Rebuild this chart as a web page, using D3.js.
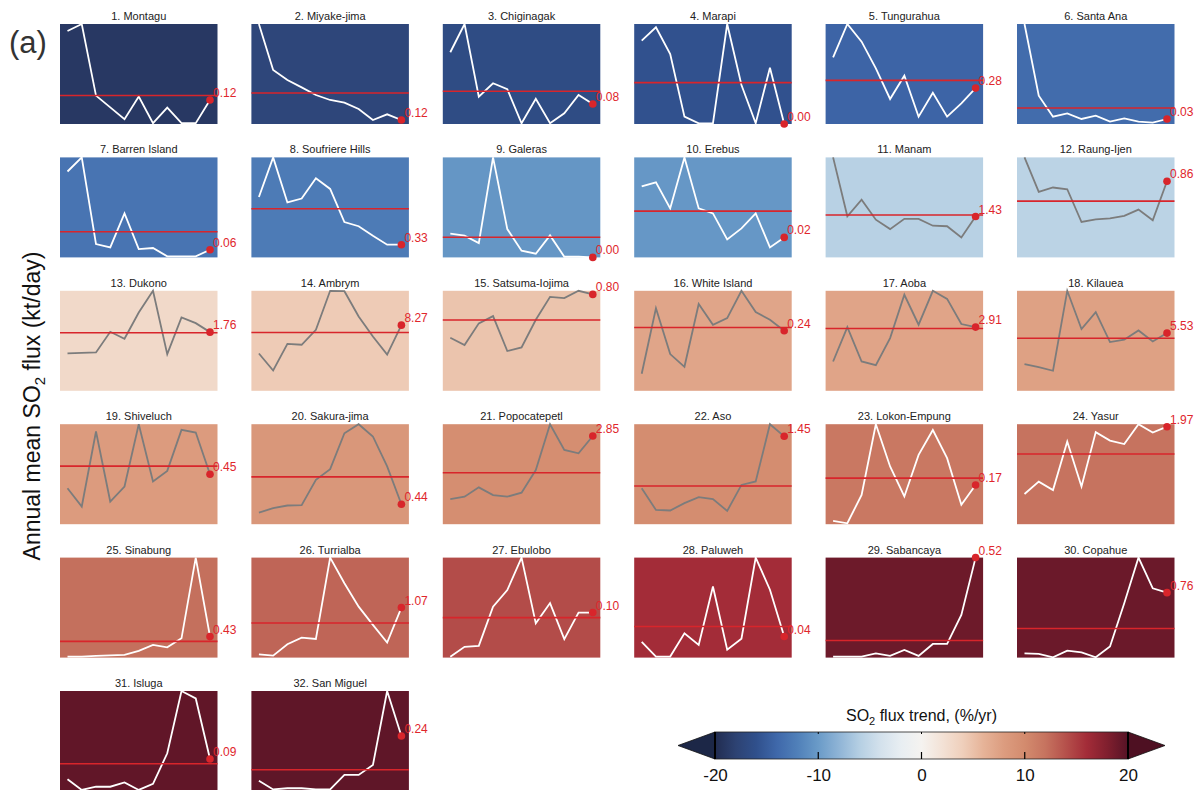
<!DOCTYPE html>
<html>
<head>
<meta charset="utf-8">
<script src="https://cdn.jsdelivr.net/npm/d3@7"></script>
<style>
  body { margin: 0; background: #fff; }
  svg { display: block; font-family: "Liberation Sans", Arial, Helvetica, sans-serif; }
</style>
</head>
<body>
<svg id="chart" width="1194" height="790"></svg>
<script>
// Years of annual means (x categories shared by every panel)
const years = [2005, 2006, 2007, 2008, 2009, 2010, 2011, 2012, 2013, 2014, 2015];

// Volcano names, ordered by SO2 flux trend
const names = ["Montagu", "Miyake-jima", "Chiginagak", "Marapi", "Tungurahua", "Santa Ana",
  "Barren Island", "Soufriere Hills", "Galeras", "Erebus", "Manam", "Raung-Ijen",
  "Dukono", "Ambrym", "Satsuma-Iojima", "White Island", "Aoba", "Kilauea",
  "Shiveluch", "Sakura-jima", "Popocatepetl", "Aso", "Lokon-Empung", "Yasur",
  "Sinabung", "Turrialba", "Ebulobo", "Paluweh", "Sabancaya", "Copahue",
  "Isluga", "San Miguel"];

// SO2 flux trend per volcano (%/yr)
const trends = [-18.9, -17.4, -16.6, -15.9, -14.3, -13.7, -13.0, -12.4, -10.4, -10.3, -5.8, -5.6,
  3.0, 4.3, 4.8, 7.2, 7.3, 7.6, 8.1, 8.6, 9.6, 9.8, 11.6, 12.0,
  12.2, 12.8, 14.2, 16.0, 18.9, 19.0, 19.5, 19.55];

// Annual mean SO2 flux (kt/day), 2005-2015
const montagu      = [0.465, 0.50, 0.142, 0.083, 0.024, 0.137, 0.004, 0.082, 0.004, 0.004, 0.12];
const miyakeJima   = [3.0, 1.62, 1.32, 1.10, 0.87, 0.72, 0.64, 0.45, 0.12, 0.29, 0.12];
const chiginagak   = [0.287, 0.40, 0.109, 0.163, 0.139, 0.003, 0.101, 0.003, 0.043, 0.116, 0.08];
const marapi       = [0.50, 0.58, 0.42, 0.044, 0.004, 0.004, 0.60, 0.234, 0.004, 0.338, 0.0];
const tungurahua   = [0.52, 0.78, 0.642, 0.434, 0.195, 0.377, 0.057, 0.244, 0.057, 0.161, 0.28];
const santaAna     = [0.60, 0.17, 0.044, 0.064, 0.03, 0.05, 0.014, 0.034, 0.014, 0.008, 0.03];
const barrenIsland = [0.67, 0.78, 0.104, 0.078, 0.343, 0.065, 0.073, 0.008, 0.008, 0.008, 0.06];
const soufriere    = [1.57, 2.6, 1.43, 1.53, 2.06, 1.78, 0.92, 0.81, 0.56, 0.33, 0.33];
const galeras      = [0.071, 0.065, 0.043, 0.30, 0.085, 0.02, 0.011, 0.066, 0.002, 0.002, 0.0];
const erebus       = [0.071, 0.075, 0.049, 0.10, 0.049, 0.044, 0.018, 0.029, 0.044, 0.01, 0.02];
const manam        = [3.5, 1.44, 2.02, 1.32, 0.99, 1.35, 1.35, 1.11, 1.09, 0.70, 1.43];
const raungIjen    = [1.13, 0.74, 0.79, 0.77, 0.40, 0.43, 0.44, 0.47, 0.54, 0.42, 0.86];
const dukono       = [1.12, 1.14, 1.15, 1.77, 1.56, 2.35, 3.0, 1.10, 2.20, 2.03, 1.76];
const ambrym       = [4.70, 2.56, 5.92, 5.80, 7.69, 12.6, 12.55, 9.36, 6.84, 4.57, 8.27];
const satsumaIojima= [0.44, 0.38, 0.56, 0.62, 0.33, 0.36, 0.59, 0.78, 0.77, 0.83, 0.80];
const whiteIsland  = [0.068, 0.33, 0.147, 0.096, 0.347, 0.264, 0.291, 0.40, 0.315, 0.284, 0.24];
const aoba         = [1.34, 2.91, 1.34, 1.17, 2.41, 4.39, 3.02, 4.57, 4.20, 3.05, 2.91];
const kilauea      = [2.56, 2.27, 1.92, 9.58, 5.91, 7.54, 4.67, 4.89, 5.78, 4.72, 5.53];
const shiveluch    = [0.324, 0.159, 0.834, 0.204, 0.339, 0.9, 0.384, 0.48, 0.849, 0.825, 0.45];
const sakurajima   = [0.257, 0.352, 0.411, 0.418, 0.975, 1.21, 2.0, 2.2, 1.93, 1.27, 0.44];
const popocatepetl = [0.81, 0.89, 1.19, 0.94, 0.89, 1.02, 1.75, 3.23, 2.40, 2.29, 2.85];
const aso          = [0.594, 0.236, 0.226, 0.347, 0.446, 0.413, 0.219, 0.648, 0.705, 1.65, 1.45];
const lokonEmpung  = [0.014, 0.004, 0.127, 0.433, 0.25, 0.12, 0.30, 0.408, 0.286, 0.084, 0.17];
const yasur        = [0.61, 0.86, 0.69, 1.67, 0.76, 1.86, 1.69, 1.62, 2.02, 1.85, 1.97];
const sinabung     = [0.02, 0.02, 0.035, 0.047, 0.055, 0.137, 0.26, 0.211, 0.396, 2.05, 0.43];
const turrialba    = [0.071, 0.043, 0.285, 0.428, 0.40, 2.14, 1.59, 1.09, 0.70, 0.321, 1.07];
const ebulobo      = [0.002, 0.024, 0.026, 0.113, 0.15, 0.222, 0.076, 0.121, 0.041, 0.10, 0.10];
const paluweh      = [0.03, 0.002, 0.002, 0.046, 0.024, 0.135, 0.015, 0.036, 0.19, 0.129, 0.04];
const sabancaya    = [0.005, 0.005, 0.005, 0.022, 0.009, 0.04, 0.009, 0.071, 0.071, 0.222, 0.52];
const copahue      = [0.05, 0.043, 0.004, 0.082, 0.062, 0.004, 0.129, 0.635, 1.17, 0.81, 0.76];
const isluga       = [0.033, 0.003, 0.012, 0.012, 0.024, 0.003, 0.02, 0.106, 0.281, 0.26, 0.09];
const sanMiguel    = [0.045, 0.007, 0.012, 0.012, 0.007, 0.007, 0.07, 0.07, 0.113, 0.436, 0.24];

const series = [montagu, miyakeJima, chiginagak, marapi, tungurahua, santaAna,
  barrenIsland, soufriere, galeras, erebus, manam, raungIjen,
  dukono, ambrym, satsumaIojima, whiteIsland, aoba, kilauea,
  shiveluch, sakurajima, popocatepetl, aso, lokonEmpung, yasur,
  sinabung, turrialba, ebulobo, paluweh, sabancaya, copahue,
  isluga, sanMiguel];

// Diverging colour map for the trend
const cbarStops  = [-20, -18, -16, -14, -12, -10, -8, -6, -4, -2, 0, 2, 4, 6, 8, 10, 12, 14, 16, 18, 20];
const cbarColors = ["#212c50", "#2d4272", "#30508c", "#3f68aa", "#5080b9", "#6a9bc8", "#8fb4d6",
  "#b5cfe3", "#d3e1ec", "#e8eef2", "#f5f3f0", "#f3e2d6", "#efcfbb", "#e6b398", "#dc9c7f",
  "#d38b6e", "#c6735f", "#b5504b", "#a32c38", "#801f2e", "#561326"];
const cbarTicks = [-20, -10, 0, 10, 20];

const svg = d3.select("#chart");
svg.append("rect").attr("width", 1194).attr("height", 790).attr("fill", "#fff");

const color = d3.scaleLinear().domain(cbarStops).range(cbarColors).clamp(true);

// Grid of small multiples
const pw = 157.5, ph = 100;
const colX = d3.scaleLinear().domain([0, 5]).range([60, 1017]);
const rowY = d3.scaleLinear().domain([0, 5]).range([24, 691]);
const x = d3.scalePoint().domain(years).range([7.5, pw - 7.5]);
const red = "#d8252b";

names.forEach((name, i) => {
  const vals = series[i];
  const data = years.map((yr, k) => ({ yr, v: vals[k] }));
  const g = svg.append("g")
    .attr("transform", `translate(${colX(i % 6)},${rowY(Math.floor(i / 6))})`);

  const y = d3.scaleLinear().domain([0, d3.max(vals)]).range([ph, 0]);
  const lineColor = Math.abs(trends[i]) < 10 ? "#7c7c7c" : "#ffffff";

  g.append("rect").attr("width", pw).attr("height", ph).attr("fill", color(trends[i]));

  g.append("text")
    .attr("x", pw / 2).attr("y", -4)
    .attr("text-anchor", "middle")
    .attr("font-size", 11).attr("fill", "#222")
    .text(`${i + 1}. ${name}`);

  g.append("path")
    .datum(data)
    .attr("fill", "none")
    .attr("stroke", lineColor)
    .attr("stroke-width", 1.8)
    .attr("stroke-linejoin", "miter")
    .attr("d", d3.line().x(d => x(d.yr)).y(d => y(d.v)));

  const m = d3.mean(vals);
  g.append("line")
    .attr("x1", 0).attr("x2", pw)
    .attr("y1", y(m)).attr("y2", y(m))
    .attr("stroke", red).attr("stroke-width", 1.6);

  const last = data[data.length - 1];
  g.append("circle")
    .attr("cx", x(last.yr)).attr("cy", y(last.v)).attr("r", 3.8)
    .attr("fill", red);

  g.append("text")
    .attr("x", x(last.yr) + 3).attr("y", y(last.v) - 3)
    .attr("font-size", 12).attr("fill", "#e0262c")
    .text(d3.format(".2f")(last.v));
});

// Y-axis title
const yl = svg.append("text")
  .attr("transform", "translate(40,406) rotate(-90)")
  .attr("text-anchor", "middle")
  .attr("font-size", 23).attr("fill", "#111");
yl.append("tspan").text("Annual mean SO");
yl.append("tspan").attr("font-size", 15).attr("dy", 5).text("2");
yl.append("tspan").attr("dy", -5).text(" flux (kt/day)");

// Panel tag
svg.append("text").attr("x", 9).attr("y", 53)
  .attr("font-size", 31).attr("fill", "#333").text("(a)");

// Colour bar
const cb = d3.scaleLinear().domain([-20, 20]).range([715, 1128]);
const cbTop = 732, cbH = 27;
const defs = svg.append("defs");
const grad = defs.append("linearGradient").attr("id", "trendGrad")
  .attr("x1", "0%").attr("x2", "100%").attr("y1", "0%").attr("y2", "0%");
cbarStops.forEach((s, k) => {
  grad.append("stop")
    .attr("offset", `${(s + 20) / 40 * 100}%`)
    .attr("stop-color", cbarColors[k]);
});

const x0 = cb(-20), x1 = cb(20), tip = 37;
svg.append("path")
  .attr("d", `M${x0},${cbTop}L${x0 - tip},${cbTop + cbH / 2}L${x0},${cbTop + cbH}Z`)
  .attr("fill", "#1c2747").attr("stroke", "#111").attr("stroke-width", 0.8);
svg.append("path")
  .attr("d", `M${x1},${cbTop}L${x1 + tip},${cbTop + cbH / 2}L${x1},${cbTop + cbH}Z`)
  .attr("fill", "#4e1022").attr("stroke", "#111").attr("stroke-width", 0.8);
svg.append("rect")
  .attr("x", x0).attr("y", cbTop).attr("width", x1 - x0).attr("height", cbH)
  .attr("fill", "url(#trendGrad)")
  .attr("stroke", "#222").attr("stroke-width", 0.8);
[x0, x1].forEach(xx => svg.append("line")
  .attr("x1", xx).attr("x2", xx).attr("y1", cbTop).attr("y2", cbTop + cbH)
  .attr("stroke", "#000").attr("stroke-width", 2));
cbarTicks.slice(1, -1).forEach(t => {
  svg.append("line").attr("x1", cb(t)).attr("x2", cb(t))
    .attr("y1", cbTop + cbH - 7).attr("y2", cbTop + cbH)
    .attr("stroke", "#000").attr("stroke-width", 1.2);
  svg.append("line").attr("x1", cb(t)).attr("x2", cb(t))
    .attr("y1", cbTop).attr("y2", cbTop + 2)
    .attr("stroke", "#000").attr("stroke-width", 1);
});

const axis = svg.append("g")
  .attr("transform", `translate(0,${cbTop + cbH})`)
  .call(d3.axisBottom(cb).tickValues(cbarTicks).tickSize(0).tickPadding(10)
    .tickFormat(d => String(d)));
axis.select(".domain").remove();
axis.selectAll("text")
  .attr("font-size", 17).attr("fill", "#111")
  .attr("font-family", "\"Liberation Sans\", Arial, sans-serif");

const ct = svg.append("text")
  .attr("x", cb(0)).attr("y", 721)
  .attr("text-anchor", "middle")
  .attr("font-size", 16).attr("fill", "#111");
ct.append("tspan").text("SO");
ct.append("tspan").attr("font-size", 11).attr("dy", 4).text("2");
ct.append("tspan").attr("dy", -4).text(" flux trend, (%/yr)");
</script>
</body>
</html>
